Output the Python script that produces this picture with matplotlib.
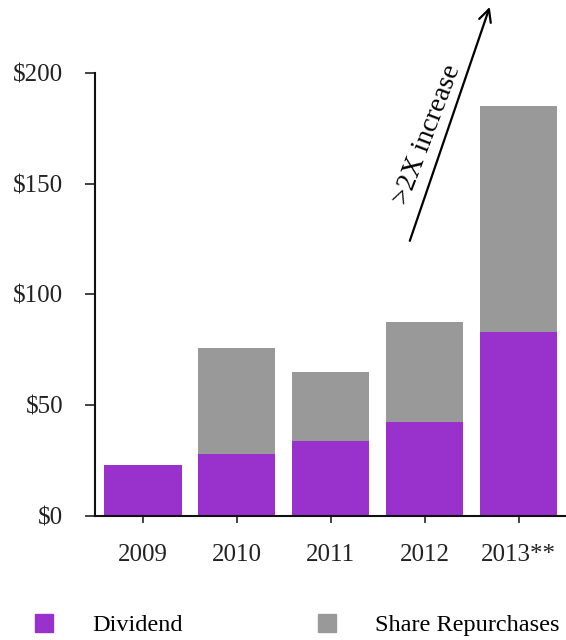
import matplotlib
matplotlib.use("Agg")
import matplotlib.pyplot as plt
from matplotlib.patches import Patch

# ── data ($ millions) ─────────────────────────────────────────────
years      = ["2009", "2010", "2011", "2012", "2013**"]
dividend   = [23, 28, 34, 42.5, 83]
repurchase = [0, 48, 31, 45, 102]

PURPLE = "#9932cc"
GRAY   = "#999999"

plt.rcParams["font.family"] = ["Liberation Serif", "DejaVu Serif"]

fig = plt.figure(figsize=(5.66, 6.4), dpi=100)
ax = fig.add_axes([0.168, 0.194, 0.83, 0.692])

x = range(len(years))
ax.bar(x, dividend, width=0.82, color=PURPLE, label="Dividend", zorder=2)
ax.bar(x, repurchase, width=0.82, bottom=dividend, color=GRAY,
       label="Share Repurchases", zorder=2)

ax.set_xlim(-0.51, 4.49)
ax.set_ylim(0, 200)
ax.set_yticks([0, 50, 100, 150, 200])
ax.set_yticklabels(["$0", "$50", "$100", "$150", "$200"])
ax.set_xticks(list(x))
ax.set_xticklabels(years)
ax.tick_params(axis="both", labelsize=18, colors="#222222", width=1.2)
ax.tick_params(axis="y", length=7, pad=16)
ax.tick_params(axis="x", length=5, pad=15)

for s in ("top", "right"):
    ax.spines[s].set_visible(False)
for s in ("left", "bottom"):
    ax.spines[s].set_linewidth(1.5)
    ax.spines[s].set_color("#111111")

# growth arrow
ax.annotate("", xy=(3.70, 231), xytext=(2.83, 123),
            arrowprops=dict(arrowstyle="->", color="black", lw=1.6,
                            mutation_scale=22),
            annotation_clip=False)
ax.text(3.03, 172, ">2X increase", rotation=69, fontsize=20,
        ha="center", va="center", rotation_mode="anchor")

# legend: one entry each, placed separately
legend_items = [(Patch(color=PURPLE, label="Dividend"), 0.062),
                (Patch(color=GRAY, label="Share Repurchases"), 0.562)]
for handle, lx in legend_items:
    fig.legend(handles=[handle], loc="center left", bbox_to_anchor=(lx, 0.023),
               frameon=False, fontsize=17.5, handlelength=0.75,
               handleheight=0.75, handletextpad=1.6, borderpad=0,
               borderaxespad=0)

fig.savefig("out.png", dpi=100, facecolor="white")
